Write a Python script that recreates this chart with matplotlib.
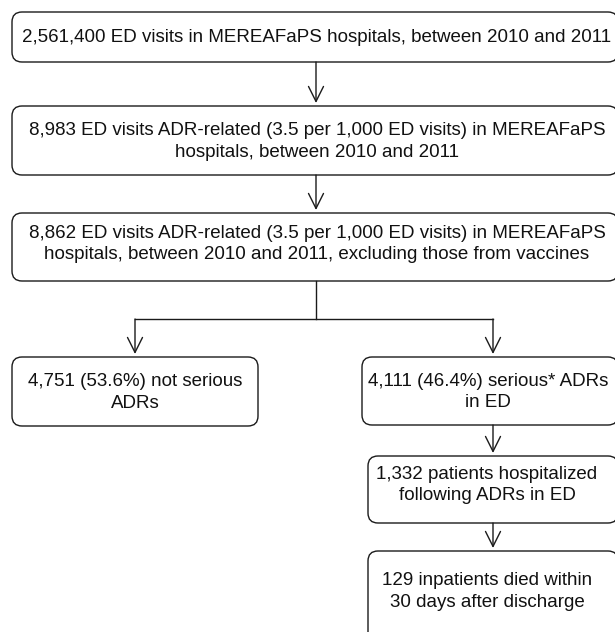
import matplotlib
matplotlib.use("Agg")
import matplotlib.pyplot as plt
from matplotlib.patches import FancyBboxPatch, FancyArrowPatch

# ---- content ----
box_texts = [
    "2,561,400 ED visits in MEREAFaPS hospitals, between 2010 and 2011",
    "8,983 ED visits ADR-related (3.5 per 1,000 ED visits) in MEREAFaPS\nhospitals, between 2010 and 2011",
    "8,862 ED visits ADR-related (3.5 per 1,000 ED visits) in MEREAFaPS\nhospitals, between 2010 and 2011, excluding those from vaccines",
    "4,751 (53.6%) not serious\nADRs",
    "4,111 (46.4%) serious* ADRs\nin ED",
    "1,332 patients hospitalized\nfollowing ADRs in ED",
    "129 inpatients died within\n30 days after discharge",
]

# ---- layout (pixel coords: left, top, right, bottom) ----
layout = [
    (12, 12, 618, 62),
    (12, 106, 618, 175),
    (12, 213, 618, 281),
    (12, 357, 258, 426),
    (362, 357, 618, 425),
    (368, 456, 618, 523),
    (368, 551, 618, 650),
]
text_y = [37, 141.5, 244, 392.5, 392, 485, 591.5]
text_x = [317, 317, 317, 135, 488, 487, 487]

W, H = 615, 632
fig = plt.figure(figsize=(W / 100, H / 100), dpi=100)
ax = fig.add_axes([0, 0, 1, 1])
ax.set_xlim(0, W)
ax.set_ylim(H, 0)
ax.axis("off")

col = "#1a1a1a"
lw = 1.0
for (l, t, r, b), txt, tx, ty in zip(layout, box_texts, text_x, text_y):
    p = FancyBboxPatch((l, t), r - l, b - t,
                       boxstyle="round,pad=0,rounding_size=10",
                       fc="white", ec=col, lw=lw)
    ax.add_patch(p)
    ax.text(tx, ty, txt, ha="center", va="center", fontsize=13.5,
            family="Liberation Sans", color="#111111", linespacing=1.31)

def arrow(x, y0, y1):
    a = FancyArrowPatch((x, y0), (x, y1), arrowstyle="->,head_length=0.9,head_width=0.45",
                        color=col, lw=lw, shrinkA=0, shrinkB=0, mutation_scale=12)
    ax.add_patch(a)

arrow(316, 62, 103)
arrow(316, 175, 210)
# branch
ax.plot([316, 316], [281, 319], color=col, lw=lw)
ax.plot([135, 493], [319, 319], color=col, lw=lw)
arrow(135, 319, 354)
arrow(493, 319, 354)
arrow(493, 425, 453)
arrow(493, 523, 548)

fig.savefig("out.png", dpi=100, facecolor="white")
